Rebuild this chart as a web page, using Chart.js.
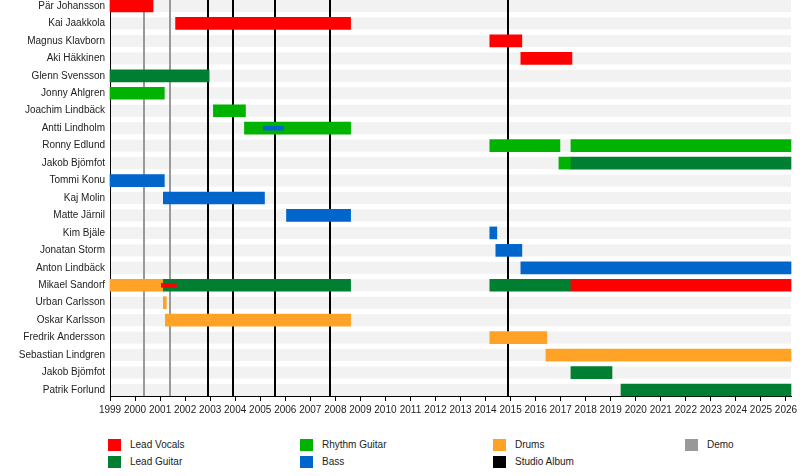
<!DOCTYPE html>
<html>
<head>
<meta charset="utf-8">
<script src="https://cdn.jsdelivr.net/npm/chart.js@4.4.1/dist/chart.umd.min.js"></script>
<style>
  body { margin: 0; background: #fff; font-family: "Liberation Sans", Arial, sans-serif; }
  #wrap { position: relative; width: 800px; height: 476px; }
  #box { position: absolute; left: 0; top: 0; width: 800px; height: 430px; }
  .key { position: absolute; font-size: 10px; color: #222; line-height: 12px; white-space: nowrap; }
  .key span { position: absolute; left: 0; top: 0; width: 13px; height: 12px; }
  .key b { font-weight: normal; position: absolute; left: 22px; top: 0; }
</style>
</head>
<body>
<div id="wrap">
  <div id="box"><canvas id="timeline"></canvas></div>
</div>
<script>
var members = [
  "Pär Johansson", "Kai Jaakkola", "Magnus Klavborn", "Aki Häkkinen",
  "Glenn Svensson", "Jonny Ahlgren", "Joachim Lindbäck", "Antti Lindholm",
  "Ronny Edlund", "Jakob Bjömfot", "Tommi Konu", "Kaj Molin", "Matte Järnil",
  "Kim Bjäle", "Jonatan Storm", "Anton Lindbäck", "Mikael Sandorf",
  "Urban Carlsson", "Oskar Karlsson", "Fredrik Andersson", "Sebastian Lindgren",
  "Jakob Bjömfot", "Patrik Forlund"
];

var yearTicks = [1999, 2000, 2001, 2002, 2003, 2004, 2005, 2006, 2007, 2008, 2009,
  2010, 2011, 2012, 2013, 2014, 2015, 2016, 2017, 2018, 2019, 2020, 2021, 2022,
  2023, 2024, 2025, 2026];
var startYear = 1999;
var endYear = 2026.2;

// [row, from, to]
var leadVocals = [[0, 1999, 2000.72], [1, 2001.62, 2008.61], [2, 2014.17, 2015.45],
  [3, 2015.41, 2017.45], [16, 2017.41, 2026.2]];
var leadGuitar = [[4, 1999, 2002.96], [9, 2017.41, 2026.2], [16, 2001.13, 2008.61],
  [16, 2014.17, 2017.41], [21, 2017.41, 2019.05], [22, 2019.41, 2026.2]];
var rhythmGuitar = [[5, 1999, 2001.17], [6, 2003.13, 2004.41], [7, 2004.37, 2008.61],
  [8, 2014.17, 2016.97], [8, 2017.41, 2026.2], [9, 2016.93, 2017.41]];
var bass = [[10, 1999, 2001.17], [11, 2001.13, 2005.17], [12, 2006.05, 2008.61],
  [13, 2014.17, 2014.45], [14, 2014.41, 2015.45], [15, 2015.41, 2026.2]];
var drums = [[16, 1999, 2001.13], [17, 2001.13, 2001.25], [18, 2001.21, 2008.61],
  [19, 2014.17, 2016.45], [20, 2016.41, 2026.2]];
// short second roles drawn as thin bars
var extraBass = [[7, 2005.13, 2005.93]];
var extraVocals = [[16, 2001.05, 2001.65]];

var demos = [2000.37, 2001.38];
var albums = [2002.9, 2003.9, 2005.6, 2007.78, 2014.89];

var colors = {
  "Lead Vocals": "#ff0000",
  "Lead Guitar": "#007f33",
  "Rhythm Guitar": "#00b300",
  "Bass": "#0066cc",
  "Drums": "#ffa326",
  "Studio Album": "#000000",
  "Demo": "#999999"
};

function toPoints(list) {
  return list.map(function(s) { return { y: s[0], x: [s[1], s[2]] }; });
}

function barSet(label, list, thick, order) {
  return {
    label: label,
    data: toPoints(list),
    backgroundColor: colors[label],
    barThickness: thick,
    grouped: false,
    order: order,
    clip: false
  };
}

var datasets = [
  barSet("Bass", extraBass, 4, 0),
  barSet("Lead Vocals", extraVocals, 4, 0),
  barSet("Lead Vocals", leadVocals, 12, 1),
  barSet("Lead Guitar", leadGuitar, 12, 1),
  barSet("Rhythm Guitar", rhythmGuitar, 12, 1),
  barSet("Bass", bass, 12, 1),
  barSet("Drums", drums, 12, 1)
];

// grey stripes behind each row, then demo / album lines
var backdrop = {
  id: "backdrop",
  beforeDatasetsDraw: function(chart) {
    var ctx = chart.ctx, area = chart.chartArea;
    var xs = chart.scales.x, ys = chart.scales.y;
    ctx.save();
    ctx.fillStyle = "#f2f2f2";
    for (var i = 0; i < members.length; i++) {
      var py = ys.getPixelForValue(i);
      ctx.fillRect(area.left + 1, py - 6, area.right - area.left - 1, 12);
    }
    ctx.lineWidth = 2;
    ctx.strokeStyle = colors["Demo"];
    demos.forEach(function(d) {
      var px = Math.round(xs.getPixelForValue(d));
      ctx.beginPath(); ctx.moveTo(px, area.top); ctx.lineTo(px, area.bottom); ctx.stroke();
    });
    ctx.strokeStyle = colors["Studio Album"];
    albums.forEach(function(a) {
      var px = Math.round(xs.getPixelForValue(a));
      ctx.beginPath(); ctx.moveTo(px, area.top); ctx.lineTo(px, area.bottom); ctx.stroke();
    });
    ctx.restore();
  }
};

var half = 6 / ((396 - 12) / 22);

new Chart(document.getElementById("timeline"), {
  type: "bar",
  data: { datasets: datasets },
  plugins: [backdrop],
  options: {
    indexAxis: "y",
    responsive: true,
    maintainAspectRatio: false,
    animation: false,
    events: [],
    layout: { padding: { left: 0, right: 9, top: 0, bottom: 0 } },
    plugins: { legend: { display: false }, tooltip: { enabled: false } },
    scales: {
      x: {
        type: "linear",
        min: startYear,
        max: endYear,
        offset: false,
        afterBuildTicks: function(scale) {
          scale.ticks = yearTicks.map(function(y) { return { value: y }; });
        },
        afterFit: function(scale) {
          scale.height = 34;
          scale.paddingLeft = 0;
          scale.paddingRight = 0;
        },
        ticks: {
          padding: 3,
          maxRotation: 0,
          autoSkip: false,
          color: "#222",
          font: { family: "Liberation Sans", size: 10 },
          callback: function(v) { return String(v); }
        },
        grid: { drawOnChartArea: false, drawTicks: true, tickLength: 5, color: "#000" },
        border: { display: true, color: "#000", width: 1 }
      },
      y: {
        type: "linear",
        reverse: true,
        offset: false,
        min: -half,
        max: members.length - 1 + half,
        afterBuildTicks: function(scale) {
          scale.ticks = members.map(function(m, i) { return { value: i }; });
        },
        afterFit: function(scale) {
          scale.width = 110;
          scale.paddingTop = 0;
          scale.paddingBottom = 0;
        },
        ticks: {
          padding: 5,
          autoSkip: false,
          color: "#222",
          font: { family: "Liberation Sans", size: 10 },
          callback: function(v) { return members[v]; }
        },
        grid: { display: false, drawTicks: false, offset: false },
        border: { display: true, color: "#000", width: 1 }
      }
    }
  }
});

// legend in four columns, two rows
var legendItems = [
  ["Lead Vocals", 108, 439], ["Lead Guitar", 108, 456],
  ["Rhythm Guitar", 300, 439], ["Bass", 300, 456],
  ["Drums", 493, 439], ["Studio Album", 493, 456],
  ["Demo", 685, 439]
];
var wrap = document.getElementById("wrap");
legendItems.forEach(function(it) {
  var d = document.createElement("div");
  d.className = "key";
  d.style.left = it[1] + "px";
  d.style.top = it[2] + "px";
  d.innerHTML = '<span style="background:' + colors[it[0]] + '"></span><b>' + it[0] + '</b>';
  wrap.appendChild(d);
});
</script>
</body>
</html>
